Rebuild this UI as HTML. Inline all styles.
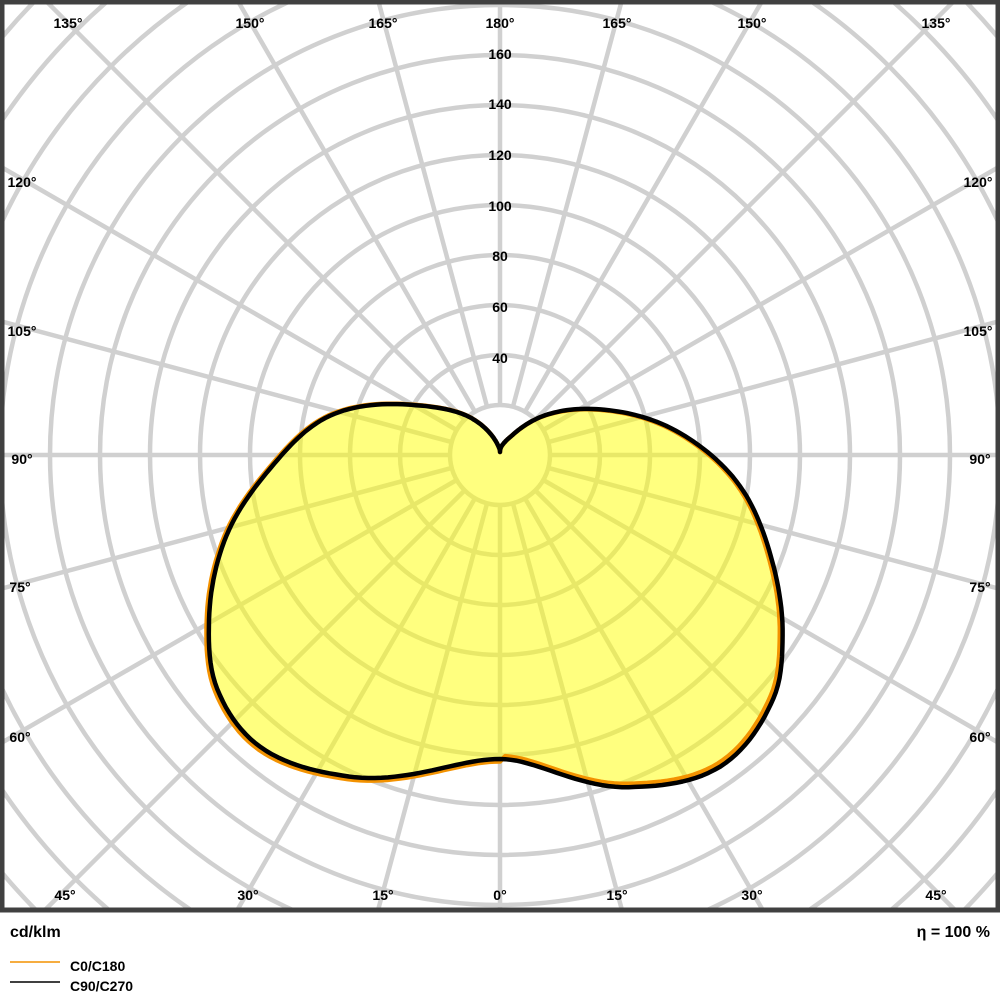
<!DOCTYPE html>
<html><head><meta charset="utf-8"><style>
html,body{margin:0;width:1000px;height:1000px;background:#fff;overflow:hidden;font-family:"Liberation Sans",Arial,sans-serif;}
svg{position:absolute;left:0;top:0;display:block}
.t{font-size:14px;fill:#000;text-anchor:middle;font-weight:bold}
</style></head><body>
<svg id="s" width="1000" height="1000" xmlns="http://www.w3.org/2000/svg">
<defs><clipPath id="c"><rect x="4" y="4" width="992" height="905"/></clipPath></defs>
<g id="grid" clip-path="url(#c)" stroke="#d0d0d0" stroke-width="4.5" fill="none"></g>
<g id="curves"></g>
<rect x="2" y="2" width="996" height="908" fill="none" stroke="#404040" stroke-width="5"/>
<g>
<text class="t" x="500" y="59">160</text>
<text class="t" x="500" y="109">140</text>
<text class="t" x="500" y="160">120</text>
<text class="t" x="500" y="211">100</text>
<text class="t" x="500" y="261">80</text>
<text class="t" x="500" y="312">60</text>
<text class="t" x="500" y="363">40</text>
<text class="t" x="68" y="28">135°</text><text class="t" x="250" y="28">150°</text><text class="t" x="383" y="28">165°</text><text class="t" x="500" y="28">180°</text><text class="t" x="617" y="28">165°</text><text class="t" x="752" y="28">150°</text><text class="t" x="936" y="28">135°</text>
<text class="t" x="22" y="187">120°</text><text class="t" x="22" y="336">105°</text><text class="t" x="22" y="464">90°</text><text class="t" x="20" y="592">75°</text><text class="t" x="20" y="742">60°</text>
<text class="t" x="978" y="187">120°</text><text class="t" x="978" y="336">105°</text><text class="t" x="980" y="464">90°</text><text class="t" x="980" y="592">75°</text><text class="t" x="980" y="742">60°</text>
<text class="t" x="65" y="900">45°</text><text class="t" x="248" y="900">30°</text><text class="t" x="383" y="900">15°</text><text class="t" x="500" y="900">0°</text><text class="t" x="617" y="900">15°</text><text class="t" x="752" y="900">30°</text><text class="t" x="936" y="900">45°</text>
</g>
<text x="10" y="937" style="font-size:16px;font-weight:bold">cd/klm</text>
<text x="990" y="937" style="font-size:16px;font-weight:bold;text-anchor:end">η = 100 %</text>
<line x1="10" y1="962" x2="60" y2="962" stroke="#f39200" stroke-width="1.5"/>
<line x1="10" y1="982" x2="60" y2="982" stroke="#000" stroke-width="1.5"/>
<text x="70" y="971" style="font-size:14px;font-weight:bold">C0/C180</text>
<text x="70" y="991" style="font-size:14px;font-weight:bold">C90/C270</text>
</svg>
<script>
var NS="http://www.w3.org/2000/svg",cx=500,cy=455;
var g=document.getElementById("grid");
for(var r=50;r<=700;r+=50){var c=document.createElementNS(NS,"circle");c.setAttribute("cx",cx);c.setAttribute("cy",cy);c.setAttribute("r",r);g.appendChild(c);}
for(var a=0;a<360;a+=15){var rad=a*Math.PI/180;var l=document.createElementNS(NS,"line");
l.setAttribute("x1",cx+50*Math.sin(rad));l.setAttribute("y1",cy+50*Math.cos(rad));
l.setAttribute("x2",cx+1000*Math.sin(rad));l.setAttribute("y2",cy+1000*Math.cos(rad));g.appendChild(l);}
var R=[[0,307],[21,359],[35,384],[48,368],[57,337],[69,290],[82,242],[96,181],[113,109],[131,53],[146,18],[180,0]];
var L=[[0,307],[25,358],[39,380],[50,369],[60,336],[73,286],[86,230],[102,174],[120,93],[139,46],[160,10],[180,0]];
function interp(P,t){for(var i=0;i<P.length-1;i++){if(t<=P[i+1][0]){var p0=P[Math.max(i-1,0)],p1=P[i],p2=P[i+1],p3=P[Math.min(i+2,P.length-1)];
var u=(t-p1[0])/(p2[0]-p1[0]);var m1=(p2[1]-p0[1])/(p2[0]-p0[0]||1)*(p2[0]-p1[0]);var m2=(p3[1]-p1[1])/(p3[0]-p1[0]||1)*(p2[0]-p1[0]);
if(i==0)m1=0;var u2=u*u,u3=u2*u;return (2*u3-3*u2+1)*p1[1]+(u3-2*u2+u)*m1+(-2*u3+3*u2)*p2[1]+(u3-u2)*m2;}}return 0;}
function path(kr,kl,dy){var pts=[];for(var t=180;t>=0;t--){var r=interp(L,t)*kl,a=t*Math.PI/180;pts.push([cx-r*Math.sin(a),cy-3+dy+r*Math.cos(a)]);}
for(var t=1;t<=180;t++){var r=interp(R,t)*kr,a=t*Math.PI/180;pts.push([cx+r*Math.sin(a),cy-3+dy+r*Math.cos(a)]);}
return "M"+pts.map(function(p){return p[0].toFixed(1)+","+p[1].toFixed(1)}).join("L")+"Z";}
var cg=document.getElementById("curves");
function add(d,f,s){var p=document.createElementNS(NS,"path");p.setAttribute("d",d);p.setAttribute("fill",f);p.setAttribute("stroke",s);p.setAttribute("stroke-width","4.5");p.setAttribute("stroke-linejoin","round");cg.appendChild(p);}
add(path(0.99,1.008,0),"rgba(255,255,0,0.5)","#f39200");
add(path(1.0,1.0,0),"none","#000");
</script>
</body></html>
